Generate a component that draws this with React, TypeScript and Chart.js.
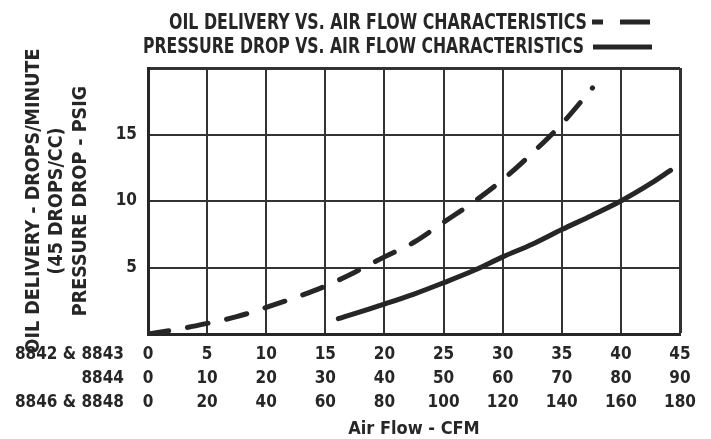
import React, { useEffect, useRef } from 'react';
import { Chart, registerables } from 'chart.js';

Chart.register(...registerables);

// ---- text ----
const titleOil = 'OIL DELIVERY VS. AIR FLOW CHARACTERISTICS';
const titlePressure = 'PRESSURE DROP VS. AIR FLOW CHARACTERISTICS';
const yTitleLines = ['OIL DELIVERY - DROPS/MINUTE', '(45 DROPS/CC)', 'PRESSURE DROP - PSIG'];
const xTitle = 'Air Flow - CFM';
const modelRows = ['8842 & 8843', '8844', '8846 & 8848'];

// ---- tick labels (one row per model) ----
const flow8842 = ['0', '5', '10', '15', '20', '25', '30', '35', '40', '45'];
const flow8844 = ['0', '10', '20', '30', '40', '50', '60', '70', '80', '90'];
const flow8846 = ['0', '20', '40', '60', '80', '100', '120', '140', '160', '180'];
const yTickLabels = ['', '5', '10', '15', ''];

// ---- series ----
const oilFlow = [0, 2.5, 5, 7.5, 10, 12.5, 15, 17.5, 20, 22.5, 25, 27.5, 30, 32.5, 35, 37.6];
const oilDrops = [0, 0.35, 0.8, 1.3, 2.0, 2.75, 3.6, 4.65, 5.8, 6.9, 8.4, 9.9, 11.6, 13.6, 15.8, 18.5];
const pressureFlow = [16.1, 20, 22.5, 25, 27.5, 30, 32.5, 35, 37.5, 40, 42.5, 44.2];
const pressurePsig = [1.15, 2.25, 3.0, 3.85, 4.75, 5.8, 6.75, 7.85, 8.9, 10.0, 11.3, 12.3];

const FONT = "'DejaVu Sans Condensed', 'Liberation Sans Narrow', sans-serif";
const INK = '#262626';
const GRID = '#333333';

function fitText(ctx: CanvasRenderingContext2D, text: string, right: number, baseline: number, width: number) {
  const w = ctx.measureText(text).width;
  const sx = Math.min(1.25, width / w);
  ctx.save();
  ctx.translate(right, baseline);
  ctx.scale(sx, 1);
  ctx.textAlign = 'right';
  ctx.textBaseline = 'alphabetic';
  ctx.fillText(text, 0, 0);
  ctx.restore();
}

const decorPlugin = {
  id: 'decor',
  afterDraw(chart: any) {
    const ctx: CanvasRenderingContext2D = chart.ctx;
    const xs = chart.scales.x;
    ctx.save();
    ctx.fillStyle = INK;
    ctx.font = `bold 21px ${FONT}`;
    // header / legend
    fitText(ctx, titleOil, 587, 29, 418);
    fitText(ctx, titlePressure, 584, 53, 441);
    const ds0 = chart.data.datasets[0];
    const ds1 = chart.data.datasets[1];
    ctx.lineCap = 'butt';
    ctx.strokeStyle = ds0.borderColor;
    ctx.lineWidth = ds0.borderWidth;
    ctx.setLineDash([11, 17, 30, 100]);
    ctx.beginPath();
    ctx.moveTo(592, 22);
    ctx.lineTo(650, 22);
    ctx.stroke();
    ctx.setLineDash([]);
    ctx.strokeStyle = ds1.borderColor;
    ctx.lineWidth = ds1.borderWidth;
    ctx.beginPath();
    ctx.moveTo(593, 47);
    ctx.lineTo(652, 47);
    ctx.stroke();
    // model row names beside the x tick rows
    ctx.font = `bold 17px ${FONT}`;
    ctx.textAlign = 'right';
    ctx.textBaseline = 'middle';
    const lh = 24.3;
    const first = xs.top + 8 + lh / 2;
    modelRows.forEach((name, i) => {
      ctx.fillText(name, 124, first + i * lh);
    });
    ctx.restore();
  },
};

export default function App() {
  const ref = useRef<HTMLCanvasElement>(null);

  useEffect(() => {
    if (!ref.current) return;
    const chart = new Chart(ref.current, {
      type: 'line',
      data: {
        datasets: [
          {
            label: titleOil,
            data: oilFlow.map((x, i) => ({ x, y: oilDrops[i] })),
            borderColor: INK,
            borderWidth: 5,
            borderDash: [21, 19],
            borderCapStyle: 'round',
            pointRadius: 0,
            cubicInterpolationMode: 'monotone',
            fill: false,
          },
          {
            label: titlePressure,
            data: pressureFlow.map((x, i) => ({ x, y: pressurePsig[i] })),
            borderColor: INK,
            borderWidth: 5,
            borderCapStyle: 'round',
            pointRadius: 0,
            cubicInterpolationMode: 'monotone',
            fill: false,
          },
        ],
      },
      options: {
        responsive: false,
        animation: false,
        events: [],
        layout: { padding: { left: 0, right: 31, top: 68, bottom: 0 } },
        plugins: {
          legend: { display: false },
          title: { display: false },
          tooltip: { enabled: false },
        },
        scales: {
          x: {
            type: 'linear',
            min: 0,
            max: 45,
            afterFit: (s: any) => {
              s.height = 105;
            },
            afterBuildTicks: (s: any) => {
              s.ticks = flow8842.map((_, i) => ({ value: i * 5 }));
            },
            ticks: {
              padding: 8,
              maxRotation: 0,
              autoSkip: false,
              color: INK,
              font: { family: FONT, size: 17, weight: 'bold', lineHeight: 24.3 / 17 },
              callback: (_v: any, i: number) => [flow8842[i], flow8844[i], flow8846[i]],
            },
            grid: {
              color: GRID,
              lineWidth: (c: any) => (c.tick && c.tick.value === 45 ? 3 : 2),
              drawTicks: false,
            },
            border: { display: true, color: INK, width: 3 },
            title: {
              display: true,
              text: xTitle,
              color: INK,
              font: { family: FONT, size: 18, weight: 'bold', lineHeight: 1.0 },
              padding: { top: 0, bottom: 1 },
            },
          },
          y: {
            type: 'linear',
            min: 0,
            max: 20,
            afterFit: (s: any) => {
              s.width = 148;
            },
            afterBuildTicks: (s: any) => {
              s.ticks = yTickLabels.map((_, i) => ({ value: i * 5 }));
            },
            ticks: {
              padding: 11,
              color: INK,
              font: { family: FONT, size: 17, weight: 'bold' },
              callback: (_v: any, i: number) => yTickLabels[i],
            },
            grid: {
              color: GRID,
              lineWidth: (c: any) => (c.tick && c.tick.value === 20 ? 3 : 2),
              drawTicks: false,
            },
            border: { display: true, color: INK, width: 3 },
            title: {
              display: true,
              text: yTitleLines,
              color: INK,
              font: { family: FONT, size: 19.5, weight: 'bold', lineHeight: 1.2 },
              padding: { top: 22, bottom: 0 },
            },
          },
        },
      },
      plugins: [decorPlugin],
    } as any);
    return () => chart.destroy();
  }, []);

  return (
    <div style={{ position: 'absolute', left: 0, top: 0, width: 711, height: 439, background: '#fff' }}>
      <canvas ref={ref} width={711} height={439} style={{ display: 'block' }} />
    </div>
  );
}
